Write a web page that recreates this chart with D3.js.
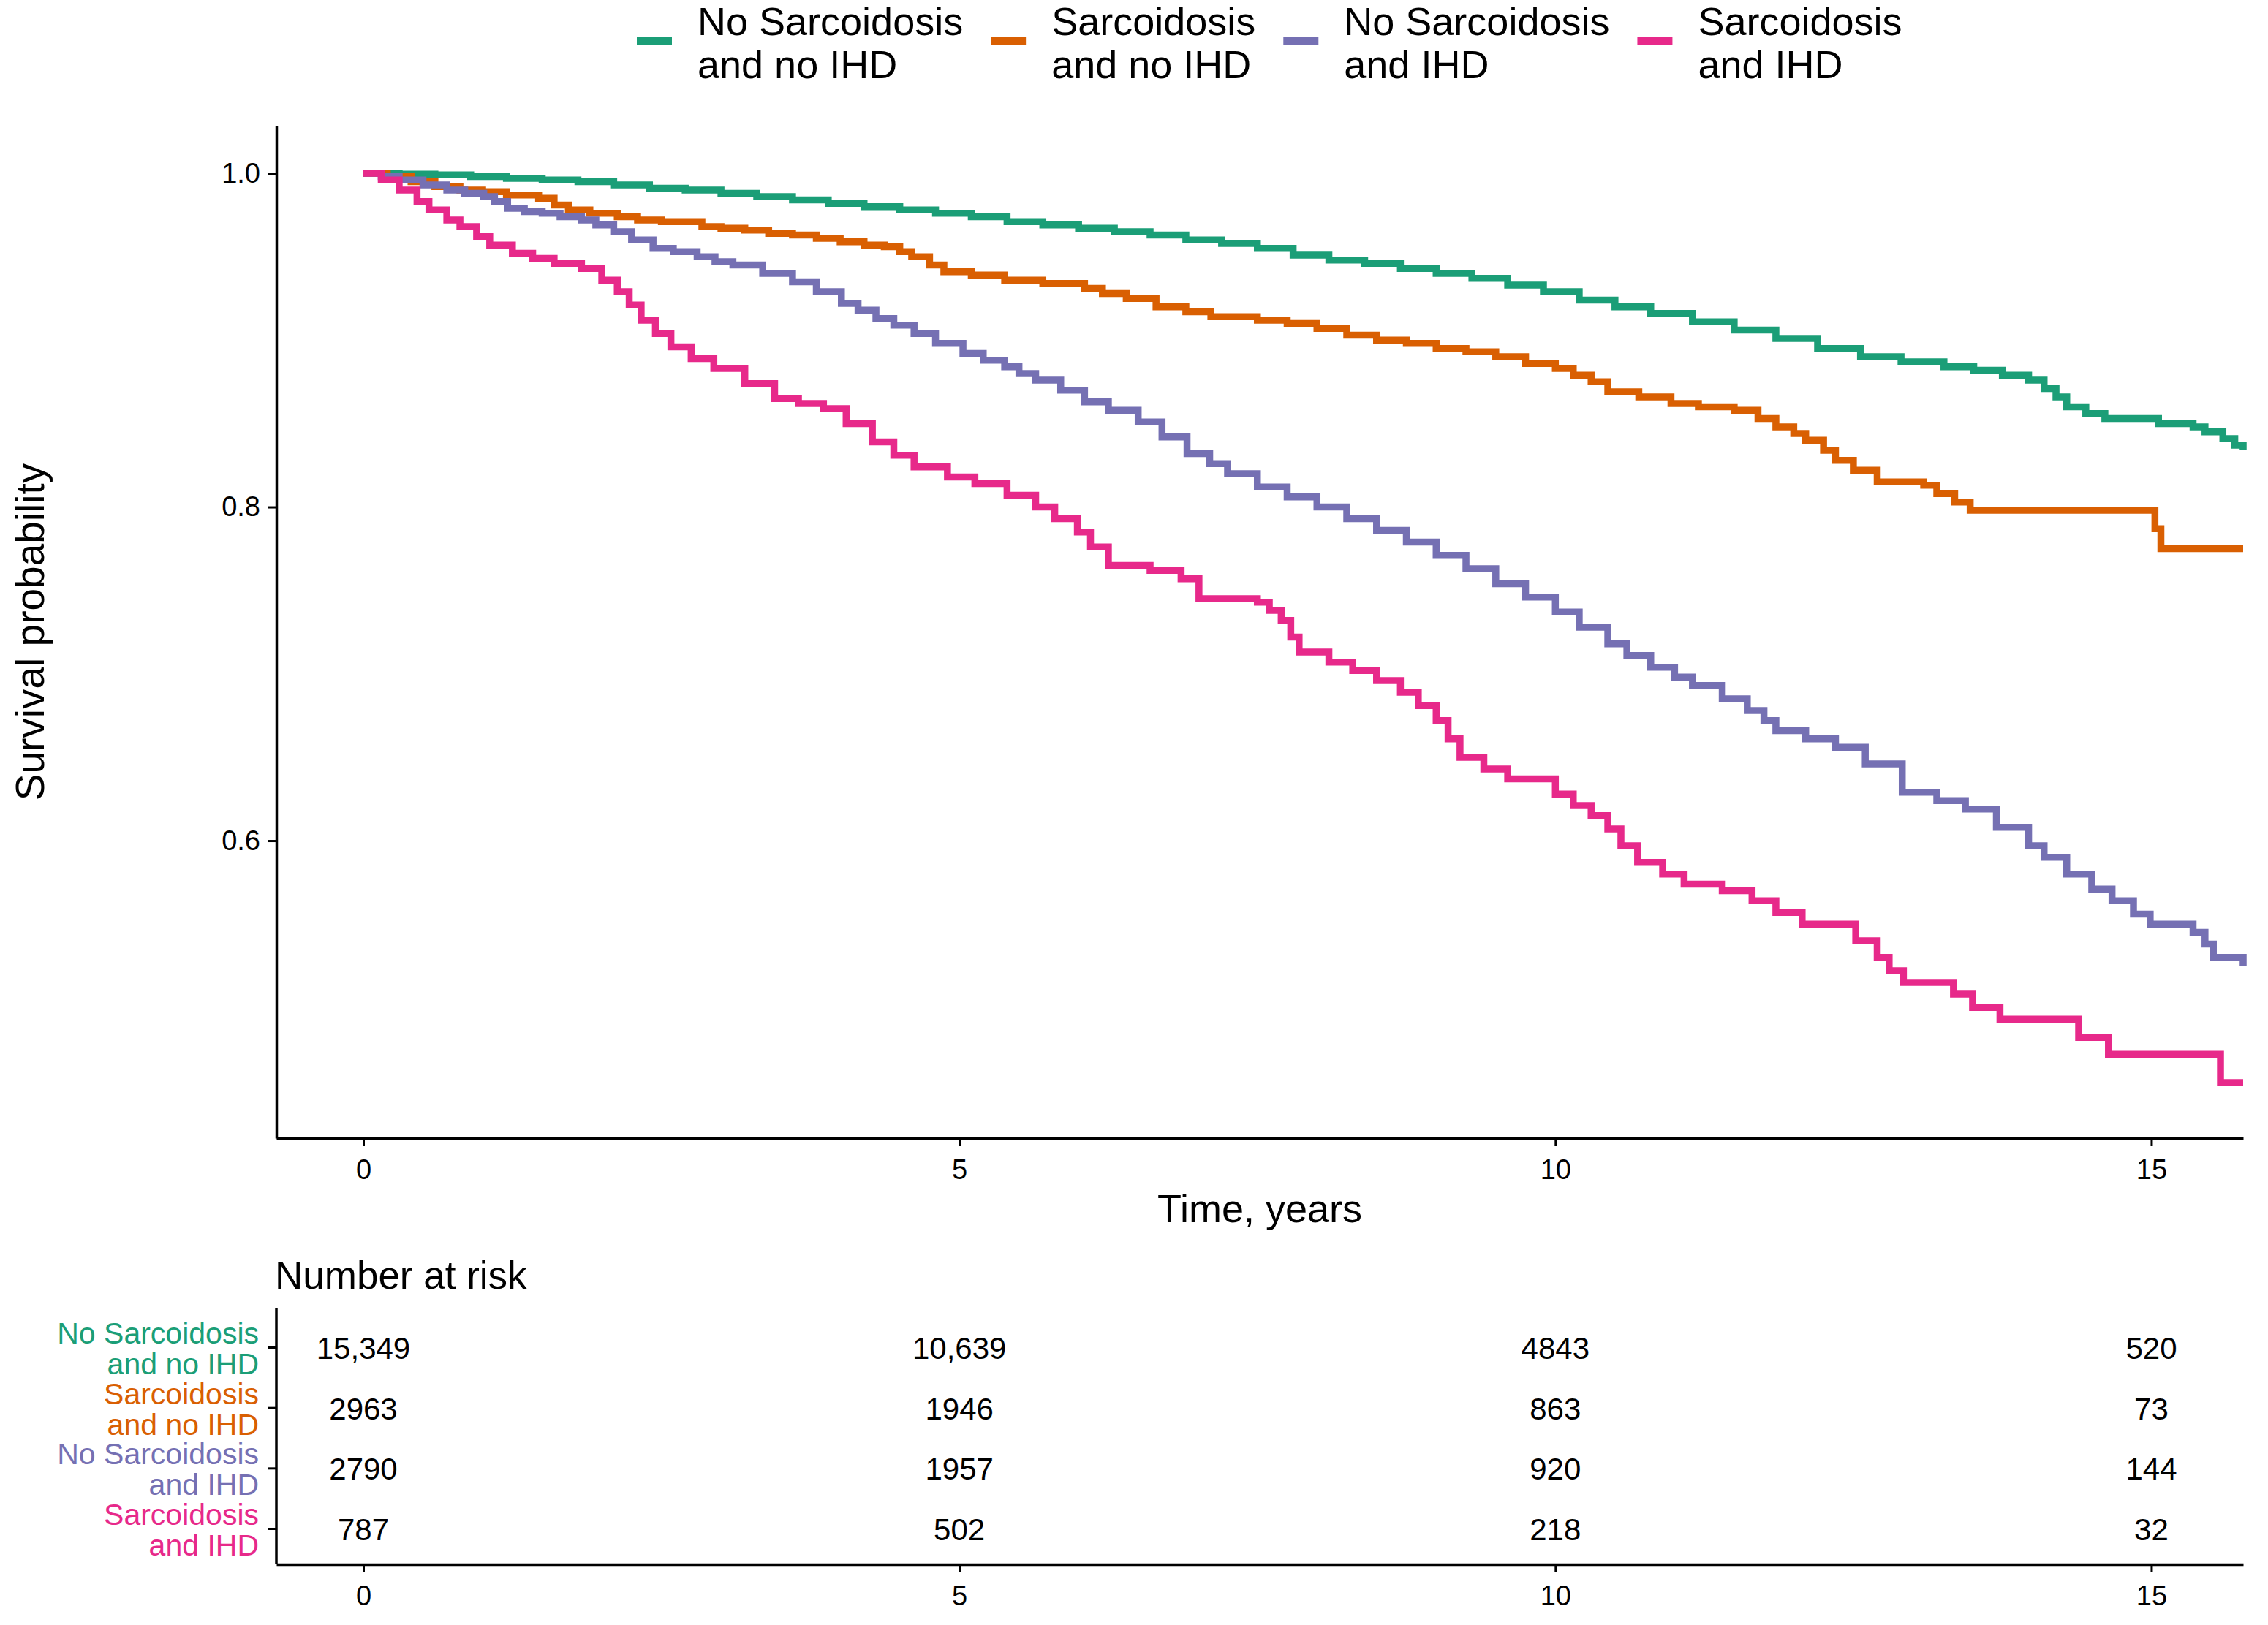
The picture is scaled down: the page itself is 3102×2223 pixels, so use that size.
<!DOCTYPE html>
<html>
<head>
<meta charset="utf-8">
<script src="https://cdn.jsdelivr.net/npm/d3@7"></script>
<style>
  html, body { margin: 0; padding: 0; background: #fff; }
  svg { display: block; }
  text { font-family: "Liberation Sans", Arial, sans-serif; }
</style>
</head>
<body>
<svg id="chart" width="3102" height="2223"></svg>
<script>
// ---------------- DATA ----------------
const groups = ["No Sarcoidosis and no IHD", "Sarcoidosis and no IHD", "No Sarcoidosis and IHD", "Sarcoidosis and IHD"];
const groupLines = [["No Sarcoidosis", "and no IHD"], ["Sarcoidosis", "and no IHD"], ["No Sarcoidosis", "and IHD"], ["Sarcoidosis", "and IHD"]];
const colors = ["#1B9E77", "#D95F02", "#7570B3", "#E7298A"];

// survival curves: [time (years), survival probability]
const survNoSarcNoIHD = [[0,1.0],[0.3,0.9995],[0.6,0.999],[0.9,0.998],[1.2,0.997],[1.5,0.996],[1.8,0.995],[2.1,0.993],[2.4,0.991],[2.7,0.990],[3.0,0.988],[3.3,0.986],[3.6,0.984],[3.9,0.982],[4.2,0.980],[4.5,0.978],[4.8,0.976],[5.1,0.974],[5.4,0.971],[5.7,0.969],[6.0,0.967],[6.3,0.965],[6.6,0.963],[6.9,0.960],[7.2,0.958],[7.5,0.955],[7.8,0.951],[8.1,0.948],[8.4,0.946],[8.7,0.943],[9.0,0.940],[9.3,0.937],[9.6,0.933],[9.9,0.929],[10.2,0.924],[10.5,0.920],[10.8,0.916],[11.15,0.911],[11.5,0.906],[11.85,0.901],[12.2,0.895],[12.56,0.890],[12.9,0.887],[13.26,0.884],[13.51,0.882],[13.75,0.879],[13.97,0.876],[14.1,0.871],[14.2,0.866],[14.29,0.860],[14.45,0.856],[14.61,0.853],[15.06,0.850],[15.35,0.848],[15.45,0.845],[15.6,0.841],[15.7,0.837],[15.77,0.834]];
const survSarcNoIHD = [[0,1.0],[0.2,0.998],[0.4,0.995],[0.6,0.992],[0.81,0.990],[1.0,0.989],[1.2,0.987],[1.47,0.985],[1.6,0.981],[1.72,0.978],[1.9,0.976],[2.13,0.974],[2.3,0.972],[2.5,0.971],[2.84,0.968],[3.0,0.967],[3.2,0.966],[3.4,0.964],[3.6,0.963],[3.8,0.961],[4.0,0.959],[4.2,0.957],[4.37,0.956],[4.5,0.953],[4.6,0.950],[4.75,0.945],[4.87,0.941],[5.1,0.939],[5.38,0.936],[5.7,0.934],[6.05,0.931],[6.2,0.928],[6.4,0.925],[6.65,0.920],[6.9,0.917],[7.11,0.914],[7.5,0.912],[7.75,0.910],[8.0,0.907],[8.25,0.903],[8.5,0.900],[8.75,0.898],[9.0,0.895],[9.25,0.893],[9.5,0.890],[9.75,0.886],[10.0,0.883],[10.15,0.879],[10.3,0.875],[10.44,0.869],[10.7,0.866],[10.97,0.862],[11.2,0.860],[11.5,0.858],[11.7,0.853],[11.85,0.848],[12.0,0.844],[12.1,0.840],[12.25,0.834],[12.35,0.828],[12.5,0.822],[12.7,0.815],[13.09,0.813],[13.2,0.808],[13.35,0.803],[13.48,0.798],[15.03,0.787],[15.08,0.775],[15.77,0.775]];
const survNoSarcIHD = [[0,1.0],[0.15,0.998],[0.3,0.996],[0.5,0.993],[0.7,0.990],[0.85,0.988],[1.01,0.986],[1.1,0.983],[1.21,0.979],[1.35,0.977],[1.5,0.976],[1.65,0.974],[1.83,0.972],[1.95,0.969],[2.1,0.965],[2.25,0.960],[2.43,0.955],[2.6,0.953],[2.8,0.950],[2.95,0.947],[3.1,0.945],[3.35,0.940],[3.6,0.935],[3.8,0.929],[4.01,0.922],[4.15,0.918],[4.3,0.913],[4.45,0.909],[4.62,0.904],[4.8,0.898],[5.03,0.892],[5.2,0.888],[5.38,0.884],[5.5,0.880],[5.64,0.876],[5.85,0.870],[6.05,0.863],[6.25,0.858],[6.5,0.851],[6.7,0.842],[6.91,0.832],[7.1,0.826],[7.25,0.820],[7.5,0.812],[7.75,0.806],[8.0,0.800],[8.25,0.793],[8.5,0.786],[8.75,0.779],[9.0,0.771],[9.25,0.763],[9.5,0.754],[9.75,0.746],[10.0,0.737],[10.2,0.728],[10.44,0.718],[10.6,0.711],[10.8,0.704],[11.0,0.698],[11.15,0.693],[11.4,0.685],[11.61,0.678],[11.75,0.672],[11.85,0.666],[12.1,0.661],[12.35,0.656],[12.6,0.646],[12.91,0.629],[13.2,0.624],[13.44,0.619],[13.7,0.608],[13.97,0.597],[14.1,0.590],[14.29,0.580],[14.5,0.571],[14.67,0.564],[14.85,0.556],[14.99,0.550],[15.35,0.545],[15.45,0.538],[15.52,0.530],[15.77,0.525]];
const survSarcIHD = [[0,1.0],[0.15,0.996],[0.3,0.990],[0.45,0.983],[0.55,0.978],[0.7,0.972],[0.81,0.968],[0.95,0.962],[1.06,0.957],[1.25,0.952],[1.42,0.949],[1.6,0.946],[1.83,0.943],[2.0,0.936],[2.13,0.929],[2.23,0.921],[2.33,0.912],[2.45,0.904],[2.58,0.896],[2.75,0.889],[2.94,0.883],[3.2,0.874],[3.45,0.865],[3.65,0.862],[3.86,0.859],[4.05,0.850],[4.27,0.839],[4.45,0.831],[4.62,0.824],[4.9,0.818],[5.13,0.814],[5.4,0.807],[5.64,0.800],[5.8,0.793],[5.99,0.785],[6.1,0.776],[6.25,0.765],[6.6,0.762],[6.86,0.757],[7.01,0.745],[7.5,0.743],[7.6,0.738],[7.7,0.732],[7.78,0.722],[7.85,0.713],[8.1,0.707],[8.3,0.702],[8.5,0.696],[8.7,0.689],[8.85,0.681],[9.0,0.672],[9.1,0.661],[9.2,0.650],[9.4,0.643],[9.6,0.637],[10.0,0.628],[10.15,0.621],[10.3,0.615],[10.44,0.607],[10.55,0.597],[10.69,0.587],[10.9,0.580],[11.08,0.574],[11.4,0.570],[11.65,0.564],[11.85,0.557],[12.07,0.550],[12.52,0.540],[12.7,0.530],[12.8,0.522],[12.92,0.515],[13.34,0.508],[13.5,0.500],[13.73,0.493],[14.39,0.482],[14.64,0.472],[15.58,0.455],[15.77,0.455]];
const survSeries = [survNoSarcNoIHD, survSarcNoIHD, survNoSarcIHD, survSarcIHD];

// number at risk
const riskTimes = [0, 5, 10, 15];
const riskNoSarcNoIHD = ["15,349", "10,639", "4843", "520"];
const riskSarcNoIHD = ["2963", "1946", "863", "73"];
const riskNoSarcIHD = ["2790", "1957", "920", "144"];
const riskSarcIHD = ["787", "502", "218", "32"];
const riskSeries = [riskNoSarcNoIHD, riskSarcNoIHD, riskNoSarcIHD, riskSarcIHD];

const xTicks = [0, 5, 10, 15];
const yTicks = [0.6, 0.8, 1.0];
const yTickLabels = ["0.6", "0.8", "1.0"];

// ---------------- LAYOUT ----------------
const svg = d3.select("#chart");
const L = 378, R = 3068, T = 172, B = 1557;
const x = d3.scaleLinear().domain([-0.73, 15.77]).range([L, R]);
const y = d3.scaleLinear().domain([0.4217, 1.0285]).range([B, T]);
const FONT = '"Liberation Sans", Arial, sans-serif';

function styleAxis(g, fs) {
  g.select(".domain").attr("stroke", "#000").attr("stroke-width", 3.5);
  g.selectAll(".tick line").attr("stroke", "#000").attr("stroke-width", 3);
  g.selectAll(".tick text").attr("fill", "#000").attr("font-size", fs).attr("font-family", FONT);
}

// main axes
const gx = svg.append("g").attr("transform", `translate(0,${B})`)
  .call(d3.axisBottom(x).tickValues(xTicks).tickSize(11).tickPadding(18).tickSizeOuter(0));
styleAxis(gx, 38);
const gy = svg.append("g").attr("transform", `translate(${L},0)`)
  .call(d3.axisLeft(y).tickValues(yTicks).tickFormat((d, i) => yTickLabels[i]).tickSize(11).tickPadding(11).tickSizeOuter(0));
styleAxis(gy, 38);

// curves
const line = d3.line().x(d => x(d[0])).y(d => y(d[1])).curve(d3.curveStepAfter);
svg.append("g").selectAll("path").data(survSeries).join("path")
  .attr("d", line)
  .attr("fill", "none")
  .attr("stroke", (d, i) => colors[i])
  .attr("stroke-width", 9.5)
  .attr("stroke-linejoin", "miter")
  .attr("stroke-linecap", "butt");

// axis titles
svg.append("text").attr("x", (L + R) / 2).attr("y", 1672).attr("text-anchor", "middle")
  .attr("font-size", 54).attr("fill", "#000").text("Time, years");
svg.append("text").attr("transform", `translate(60,${(T + B) / 2}) rotate(-90)`)
  .attr("text-anchor", "middle").attr("font-size", 55).attr("fill", "#000").text("Survival probability");

// legend
const legend = svg.append("g");
let lx = 871;
groupLines.forEach((lines, i) => {
  legend.append("line").attr("x1", lx).attr("x2", lx + 48).attr("y1", 55.5).attr("y2", 55.5)
    .attr("stroke", colors[i]).attr("stroke-width", 11);
  const t = legend.append("text").attr("x", lx + 83).attr("y", 48).attr("font-size", 54).attr("fill", "#000");
  t.append("tspan").attr("x", lx + 83).attr("y", 48).text(lines[0]);
  t.append("tspan").attr("x", lx + 83).attr("y", 107).text(lines[1]);
  const w = t.node().getBBox().width;
  lx = lx + 83 + w + 38;
});

// ---------------- RISK TABLE ----------------
const RT = 1790, RB = 2140;
const ry = d3.scalePoint().domain(groups).range([1843, 2091]);
svg.append("text").attr("x", 376).attr("y", 1763).attr("font-size", 53).attr("fill", "#000").text("Number at risk");

const rgx = svg.append("g").attr("transform", `translate(0,${RB})`)
  .call(d3.axisBottom(x).tickValues(xTicks).tickSize(11).tickPadding(18).tickSizeOuter(0));
styleAxis(rgx, 38);
const rgy = svg.append("g").attr("transform", `translate(${L},0)`)
  .call(d3.axisLeft(ry).tickSize(11).tickFormat(() => "").tickSizeOuter(0));
rgy.select(".domain").remove();
rgy.selectAll(".tick line").attr("stroke", "#000").attr("stroke-width", 3);
svg.append("line").attr("x1", L).attr("x2", L).attr("y1", RT).attr("y2", RB).attr("stroke", "#000").attr("stroke-width", 3.5);

// row labels
groups.forEach((g, i) => {
  const yy = ry(g);
  const t = svg.append("text").attr("text-anchor", "end").attr("font-size", 41).attr("fill", colors[i]);
  t.append("tspan").attr("x", 354).attr("y", yy - 5).text(groupLines[i][0]);
  t.append("tspan").attr("x", 354).attr("y", yy + 37).text(groupLines[i][1]);
});

// risk numbers
groups.forEach((g, i) => {
  svg.append("g").selectAll("text").data(riskSeries[i]).join("text")
    .attr("x", (d, j) => x(riskTimes[j]))
    .attr("y", ry(g) + 16)
    .attr("text-anchor", "middle").attr("font-size", 42).attr("fill", "#000")
    .text(d => d);
});
</script>
</body>
</html>
